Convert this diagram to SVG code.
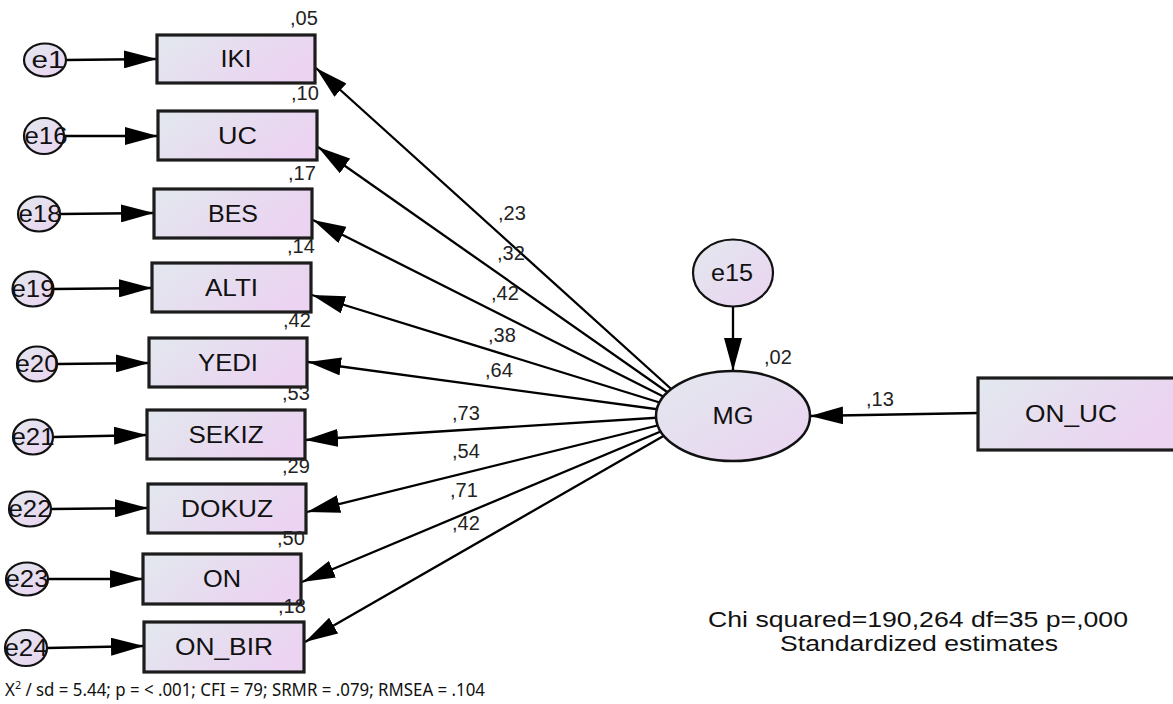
<svg xmlns="http://www.w3.org/2000/svg" width="1173" height="704" viewBox="0 0 1173 704">
  <defs>
    <linearGradient id="fillBox" x1="0" y1="0" x2="1" y2="0.4">
      <stop offset="0" stop-color="#e2e8ee"/>
      <stop offset="1" stop-color="#ebd3f1"/>
    </linearGradient>
    <linearGradient id="fillOval" x1="0" y1="0" x2="1" y2="1">
      <stop offset="0" stop-color="#e2e8ee"/>
      <stop offset="1" stop-color="#ebd3f1"/>
    </linearGradient>
    <marker id="head" viewBox="0 0 33 18" refX="33" refY="9" markerWidth="33" markerHeight="18" markerUnits="userSpaceOnUse" orient="auto">
      <path d="M0,0 L33,9 L0,18 z" fill="#000"/>
    </marker>
  </defs>
  <style>
    .box { fill: url(#fillBox); stroke: #1c1c1c; stroke-width: 3.2; }
    .err { fill: url(#fillOval); stroke: #111; stroke-width: 2.2; }
    .lat { fill: url(#fillOval); stroke: #111; stroke-width: 2.5; }
    .lbl { font-family: "Liberation Sans", Arial, sans-serif; font-size: 23.5px; fill: #111; text-anchor: middle; }
    .num { font-family: "Liberation Sans", Arial, sans-serif; font-size: 20px; fill: #222; }
    .note { font-family: "Liberation Sans", Arial, sans-serif; font-size: 22.5px; fill: #111; text-anchor: middle; }
    .cap { font-family: "Noto Sans", "Open Sans", sans-serif; font-size: 18px; fill: #111; }
    .conn line { stroke: #000; stroke-width: 2.3; marker-end: url(#head); }
  </style>

  <!-- connectors: drawn first so the MG ellipse covers their inner ends -->
  <g id="connectors" class="conn">
    <!-- error terms to indicators -->
    <line x1="66" y1="60" x2="157" y2="59"/>
    <line x1="64" y1="136" x2="158" y2="136"/>
    <line x1="60" y1="214" x2="154" y2="213"/>
    <line x1="54" y1="289" x2="152" y2="288"/>
    <line x1="58" y1="364" x2="149" y2="363"/>
    <line x1="54" y1="437" x2="147" y2="435"/>
    <line x1="51" y1="509" x2="148" y2="508"/>
    <line x1="48" y1="579" x2="143" y2="579"/>
    <line x1="47" y1="648" x2="144" y2="646"/>
    <!-- MG loadings -->
    <line x1="700" y1="415" x2="316" y2="68"/>
    <line x1="700" y1="415" x2="318" y2="147"/>
    <line x1="700" y1="415" x2="313" y2="220"/>
    <line x1="700" y1="415" x2="312" y2="295"/>
    <line x1="700" y1="415" x2="308" y2="362"/>
    <line x1="700" y1="415" x2="305" y2="440"/>
    <line x1="700" y1="415" x2="307" y2="512"/>
    <line x1="700" y1="415" x2="302" y2="582"/>
    <line x1="700" y1="415" x2="305" y2="642"/>
    <!-- structural paths -->
    <line x1="733" y1="307" x2="733" y2="371"/>
    <line x1="978" y1="413" x2="810" y2="416"/>
  </g>

  <!-- path coefficients -->
  <g id="coefficients" class="num">
    <text x="498" y="220">,23</text>
    <text x="497" y="260">,32</text>
    <text x="491" y="300">,42</text>
    <text x="488" y="342">,38</text>
    <text x="485" y="377">,64</text>
    <text x="452" y="420">,73</text>
    <text x="452" y="458">,54</text>
    <text x="450" y="497">,71</text>
    <text x="452" y="530">,42</text>
    <text x="866" y="406">,13</text>
    <text x="764" y="364">,02</text>
  </g>

  <!-- indicators -->
  <g id="IKI">
    <rect class="box" x="157" y="35" width="158" height="48"/>
    <text class="lbl" x="236" y="67" textLength="31" lengthAdjust="spacingAndGlyphs">IKI</text>
    <text class="num" x="290" y="25">,05</text>
  </g>
  <g id="UC">
    <rect class="box" x="158" y="111" width="159" height="49"/>
    <text class="lbl" x="237.5" y="143.5" textLength="39" lengthAdjust="spacingAndGlyphs">UC</text>
    <text class="num" x="291" y="100">,10</text>
  </g>
  <g id="BES">
    <rect class="box" x="154" y="189" width="158" height="49"/>
    <text class="lbl" x="233" y="221.5" textLength="50" lengthAdjust="spacingAndGlyphs">BES</text>
    <text class="num" x="288" y="180">,17</text>
  </g>
  <g id="ALTI">
    <rect class="box" x="152" y="263" width="159" height="49"/>
    <text class="lbl" x="231.5" y="295.5" textLength="53" lengthAdjust="spacingAndGlyphs">ALTI</text>
    <text class="num" x="287" y="253">,14</text>
  </g>
  <g id="YEDI">
    <rect class="box" x="149" y="338" width="158" height="49"/>
    <text class="lbl" x="228" y="370.5" textLength="60" lengthAdjust="spacingAndGlyphs">YEDI</text>
    <text class="num" x="283" y="327">,42</text>
  </g>
  <g id="SEKIZ">
    <rect class="box" x="147" y="410" width="158" height="49"/>
    <text class="lbl" x="226" y="442.5" textLength="75" lengthAdjust="spacingAndGlyphs">SEKIZ</text>
    <text class="num" x="282" y="400">,53</text>
  </g>
  <g id="DOKUZ">
    <rect class="box" x="148" y="484" width="158" height="49"/>
    <text class="lbl" x="227" y="516.5" textLength="92" lengthAdjust="spacingAndGlyphs">DOKUZ</text>
    <text class="num" x="282" y="473">,29</text>
  </g>
  <g id="ON">
    <rect class="box" x="143" y="554" width="158" height="50"/>
    <text class="lbl" x="222" y="587" textLength="38" lengthAdjust="spacingAndGlyphs">ON</text>
    <text class="num" x="277" y="545">,50</text>
  </g>
  <g id="ON_BIR">
    <rect class="box" x="144" y="622" width="160" height="50"/>
    <text class="lbl" x="224" y="655" textLength="98" lengthAdjust="spacingAndGlyphs">ON_BIR</text>
    <text class="num" x="278" y="613">,18</text>
  </g>

  <!-- error terms -->
  <g id="e1"><ellipse class="err" cx="45" cy="60" rx="21" ry="16.5"/><text class="lbl" x="48" y="68" textLength="33" lengthAdjust="spacingAndGlyphs">e1</text></g>
  <g id="e16"><ellipse class="err" cx="44" cy="136" rx="20" ry="18"/><text class="lbl" x="46" y="144" textLength="43" lengthAdjust="spacingAndGlyphs">e16</text></g>
  <g id="e18"><ellipse class="err" cx="39" cy="214" rx="21" ry="17.5"/><text class="lbl" x="40" y="222" textLength="43" lengthAdjust="spacingAndGlyphs">e18</text></g>
  <g id="e19"><ellipse class="err" cx="33" cy="289" rx="20.5" ry="17.5"/><text class="lbl" x="33" y="297" textLength="43" lengthAdjust="spacingAndGlyphs">e19</text></g>
  <g id="e20"><ellipse class="err" cx="37" cy="364" rx="20" ry="17.5"/><text class="lbl" x="37" y="372" textLength="43" lengthAdjust="spacingAndGlyphs">e20</text></g>
  <g id="e21"><ellipse class="err" cx="33" cy="437" rx="20" ry="17.5"/><text class="lbl" x="33" y="445" textLength="43" lengthAdjust="spacingAndGlyphs">e21</text></g>
  <g id="e22"><ellipse class="err" cx="30" cy="509" rx="21" ry="17.5"/><text class="lbl" x="30" y="517" textLength="43" lengthAdjust="spacingAndGlyphs">e22</text></g>
  <g id="e23"><ellipse class="err" cx="27" cy="579" rx="21" ry="16.5"/><text class="lbl" x="27" y="587" textLength="43" lengthAdjust="spacingAndGlyphs">e23</text></g>
  <g id="e24"><ellipse class="err" cx="26" cy="648" rx="21" ry="18"/><text class="lbl" x="26" y="656" textLength="43" lengthAdjust="spacingAndGlyphs">e24</text></g>

  <!-- latent factor, its disturbance and the predictor -->
  <g id="e15">
    <ellipse class="err" cx="733" cy="273" rx="40" ry="33.5"/>
    <text class="lbl" x="732" y="281" textLength="42" lengthAdjust="spacingAndGlyphs">e15</text>
  </g>
  <g id="MG">
    <ellipse class="lat" cx="733" cy="416" rx="77" ry="45"/>
    <text class="lbl" x="733" y="424" textLength="41" lengthAdjust="spacingAndGlyphs">MG</text>
  </g>
  <g id="ON_UC">
    <rect class="box" x="978" y="378" width="197" height="72"/>
    <text class="lbl" x="1071" y="422" textLength="92" lengthAdjust="spacingAndGlyphs">ON_UC</text>
  </g>

  <!-- fit summary -->
  <g id="summary">
    <text class="note" x="918" y="627" textLength="420" lengthAdjust="spacingAndGlyphs">Chi squared=190,264 df=35 p=,000</text>
    <text class="note" x="919" y="651" textLength="278" lengthAdjust="spacingAndGlyphs">Standardized estimates</text>
  </g>
  <text class="cap" x="5" y="696" textLength="480" lengthAdjust="spacingAndGlyphs">X<tspan font-size="11.5" dy="-7">2</tspan><tspan dy="7"> / sd = 5.44; p = &lt; .001; CFI = 79; SRMR = .079; RMSEA = .104</tspan></text>
</svg>
